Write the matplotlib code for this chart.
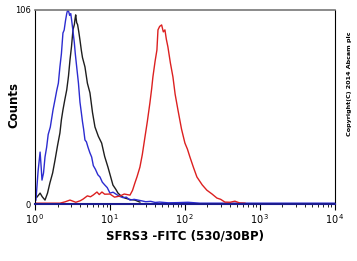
import math
import matplotlib.pyplot as plt
from matplotlib.ticker import FixedLocator, FuncFormatter, LogLocator, NullFormatter

# histogram traces (FITC intensity, counts)
blue_x = [1.03, 1.10, 1.17, 1.21, 1.24, 1.30, 1.36, 1.43, 1.50, 1.60, 1.74, 1.85, 1.95, 2.05,
          2.15, 2.25, 2.36, 2.45, 2.55, 2.65, 2.73, 2.82, 2.90, 3.00, 3.08, 3.20, 3.35, 3.45,
          3.60, 3.80, 3.98, 4.15, 4.30, 4.45, 4.64, 4.85, 5.10, 5.40, 5.70, 6.00, 6.40, 6.90,
          7.36, 7.90, 8.5, 9.2, 10.0, 11.0, 12.5, 13.5, 15.0, 16.5, 18.5, 21.0, 25.0, 30.0,
          35.0, 40.0, 46.0, 60.0, 80.0, 110.0, 158.0, 1000.0, 10000.0]
blue_y = [2.2, 18.0, 28.4, 20.0, 13.1, 17.0, 25.7, 31.0, 38.0, 42.0, 51.4, 57.0, 62.0, 66.0,
          74.9, 82.0, 93.4, 95.0, 100.0, 104.0, 106.0, 105.0, 103.0, 104.0, 100.5, 95.0, 88.0, 82.0,
          74.9, 66.0, 55.7, 50.0, 45.0, 41.0, 35.0, 34.0, 31.0, 28.0, 25.7, 21.0, 19.0, 16.0,
          14.8, 12.0, 10.5, 9.0, 6.0, 6.5, 5.0, 4.2, 3.5, 3.8, 2.2, 2.6, 2.0, 1.3,
          1.5, 0.9, 1.1, 0.7, 0.8, 1.0, 0.5, 0.5, 0.5]

black_x = [1.06, 1.12, 1.17, 1.25, 1.36, 1.47, 1.58, 1.72, 1.85, 2.00, 2.15, 2.25, 2.36, 2.50,
           2.65, 2.80, 2.93, 3.07, 3.21, 3.35, 3.42, 3.49, 3.60, 3.70, 3.84, 3.98, 4.15, 4.30,
           4.64, 5.00, 5.41, 5.85, 6.31, 7.00, 7.75, 8.50, 9.40, 10.2, 10.96, 12.0, 12.8,
           14.0, 15.8, 18.5, 21.5, 25.1]
black_y = [3.8, 5.0, 6.0, 4.0, 2.2, 6.0, 11.5, 17.0, 24.0, 32.0, 38.8, 46.0, 51.4, 57.0,
           62.3, 70.0, 78.7, 86.0, 95.1, 98.0, 101.0, 103.3, 99.0, 98.0, 94.0, 89.6, 84.0, 80.0,
           74.9, 66.0, 60.7, 50.0, 42.1, 37.0, 33.3, 26.0, 20.2, 15.0, 10.4, 8.0, 6.0,
           4.5, 3.3, 2.5, 2.2, 1.1]

red_x = [1.03, 2.15, 2.50, 2.93, 3.5, 4.00, 4.37, 5.0, 5.5, 6.0, 6.71, 7.2, 7.82, 8.5,
         10.0, 11.5, 13.6, 15.5, 18.5, 20.0, 21.5, 23.0, 25.1, 27.0, 29.3, 31.5, 34.1, 36.0,
         37.4, 40.0, 42.3, 43.7, 46.0, 48.9, 51.5, 54.1, 56.5, 59.3, 64.0, 69.2, 74.0, 80.7,
         90.0, 100.0, 108.0, 116.6, 130.0, 144.5, 170.0, 196.0, 230.0, 267.0, 300.0, 341.0,
         400.0, 464.0, 540.0, 631.0]
red_y = [0.5, 0.5, 1.2, 2.2, 1.0, 1.8, 2.7, 4.5, 4.0, 5.0, 6.6, 5.2, 6.6, 5.4,
         5.5, 3.8, 4.4, 5.5, 4.9, 7.5, 11.5, 15.0, 20.2, 27.0, 36.6, 45.0, 55.2, 63.0,
         69.4, 78.0, 84.1, 95.1, 97.0, 97.8, 94.0, 95.1, 90.0, 85.8, 77.0, 69.4, 60.0, 51.4,
         41.0, 33.3, 30.0, 25.7, 20.0, 14.8, 10.5, 7.6, 5.5, 3.3, 2.6, 1.1,
         1.0, 1.6, 0.6, 0.5]

decades = [1, 10, 100, 1000, 10000]
y_ticks = [0, 106]

fig = plt.figure(figsize=(3.57, 2.61), dpi=100)
ax = fig.add_axes([0.098, 0.218, 0.84, 0.744])

ax.plot(black_x, black_y, color='#1e1e1e', lw=1.0)
ax.plot(blue_x, blue_y, color='#2c2cd0', lw=1.0)
ax.plot(red_x, red_y, color='#dc2020', lw=1.0)

ax.set_xscale('log')
ax.set_xlim(1, 10000)
ax.set_ylim(0, 106)

ax.xaxis.set_major_locator(FixedLocator(decades))
ax.xaxis.set_major_formatter(FuncFormatter(lambda v, p: r'$10^{\,%d}$' % round(math.log10(v))))
ax.xaxis.set_minor_locator(LogLocator(base=10, subs=range(2, 10)))
ax.xaxis.set_minor_formatter(NullFormatter())
ax.tick_params(axis='x', which='major', length=4, width=0.8, labelsize=7, pad=2)
ax.tick_params(axis='x', which='minor', length=2.5, width=0.6)

ax.yaxis.set_major_locator(FixedLocator(y_ticks))
ax.yaxis.set_major_formatter(FuncFormatter(lambda v, p: '%d' % v))
ax.tick_params(axis='y', length=0, labelsize=6, pad=3)

ax.spines['top'].set_color('#777777')
ax.spines['top'].set_linewidth(1.2)
ax.spines['left'].set_linewidth(0.8)
ax.spines['right'].set_linewidth(0.8)
ax.spines['bottom'].set_color('#1c1c90')
ax.spines['bottom'].set_linewidth(1.5)

ax.set_xlabel('SFRS3 -FITC (530/30BP)', fontsize=8.5, fontweight='bold', labelpad=2)
ax.set_ylabel('Counts', fontsize=8.5, fontweight='bold')
ax.yaxis.set_label_coords(-0.05, 0.51)

fig.text(0.978, 0.678, 'Copyright(C) 2014 Abcam plc', rotation=90, fontsize=4.6,
         fontweight='bold', ha='center', va='center')

fig.savefig('out.png', dpi=100)
